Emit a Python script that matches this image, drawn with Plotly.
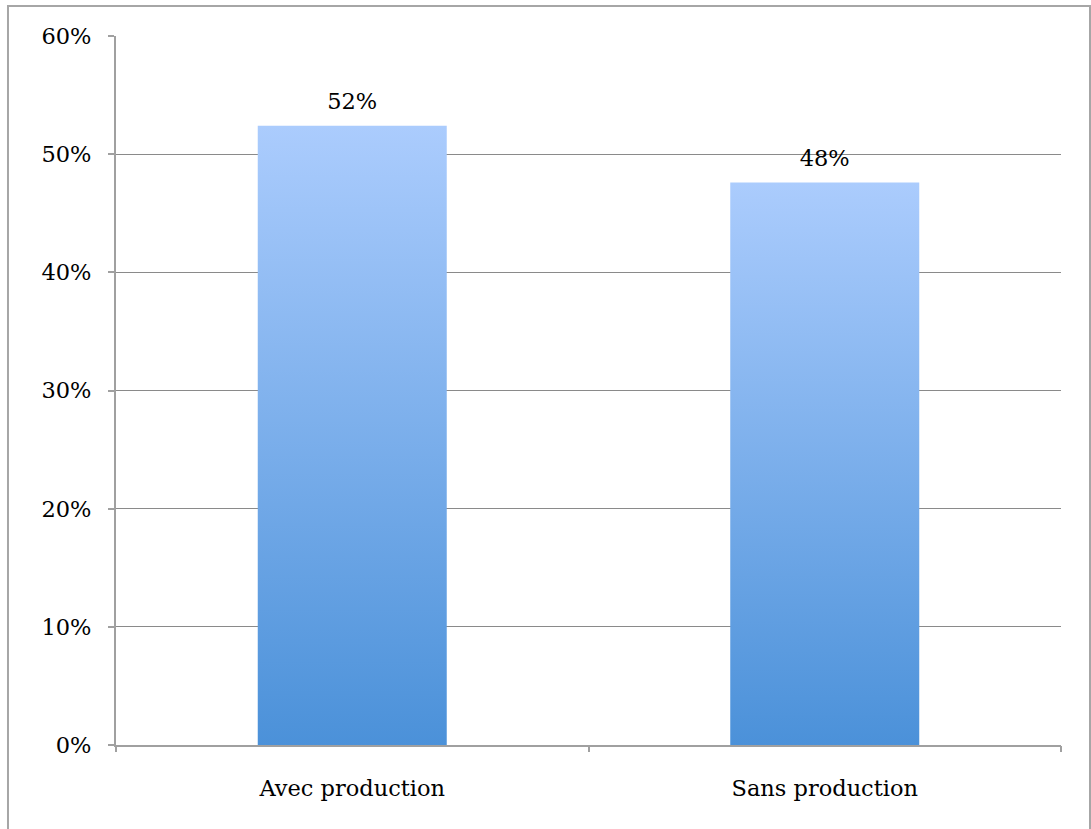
import plotly.graph_objects as go

# Share of respondents by group
categories = ["Avec production", "Sans production"]
shares = [0.524, 0.476]

# Axis ticks
y_ticks = [0.0, 0.1, 0.2, 0.3, 0.4, 0.5, 0.6]

FONT = "DejaVu Serif"
FONT_SIZE = 22.5
GRID = "#8a8a8a"
AXIS = "#a0a0a0"
HALF_WIDTH = 0.2

fig = go.Figure()

# Each bar as a filled polygon so it can carry a vertical gradient
for i, (cat, v) in enumerate(zip(categories, shares)):
    fig.add_trace(go.Scatter(
        x=[i - HALF_WIDTH, i - HALF_WIDTH, i + HALF_WIDTH, i + HALF_WIDTH, i - HALF_WIDTH],
        y=[0, v, v, 0, 0],
        mode="lines",
        fill="toself",
        line=dict(width=0),
        fillgradient=dict(type="vertical",
                          colorscale=[[0, "#4b91d9"], [1, "#abccfd"]]),
        name=cat,
        hoverinfo="skip",
        showlegend=False,
    ))

# Value labels above the bars (hidden marker keeps a small gap)
fig.add_trace(go.Scatter(
    x=list(range(len(categories))),
    y=shares,
    mode="markers+text",
    marker=dict(size=16, opacity=0),
    texttemplate="%{y:.0%}",
    textposition="top center",
    textfont=dict(family=FONT, size=FONT_SIZE, color="#000000"),
    showlegend=False,
    hoverinfo="skip",
))

# Invisible trace on the second x axis so its boundary ticks are drawn
fig.add_trace(go.Scatter(x=[-0.5, 1.5], y=[0, 0], mode="markers",
                         marker=dict(opacity=0), xaxis="x2",
                         showlegend=False, hoverinfo="skip"))

fig.update_layout(
    width=1091,
    height=829,
    margin=dict(l=116, r=30, t=36, b=84),
    paper_bgcolor="white",
    plot_bgcolor="white",
    font=dict(family=FONT, size=FONT_SIZE, color="#000000"),
    xaxis=dict(
        range=[-0.5, 1.5],
        tickvals=list(range(len(categories))),
        ticktext=categories,
        ticks="",
        showgrid=False,
        zeroline=False,
        showline=True,
        linecolor=AXIS,
        linewidth=2,
        ticklabelstandoff=22,
        fixedrange=True,
    ),
    xaxis2=dict(
        overlaying="x",
        anchor="y",
        side="bottom",
        range=[-0.5, 1.5],
        tickvals=[-0.5, 0.5, 1.5],
        ticks="outside",
        ticklen=6,
        tickcolor=AXIS,
        tickwidth=2,
        showticklabels=False,
        showgrid=False,
        zeroline=False,
        showline=False,
    ),
    yaxis=dict(
        range=[0, 0.6],
        tickvals=y_ticks,
        tickformat=".0%",
        ticks="outside",
        ticklen=6,
        tickcolor=AXIS,
        tickwidth=2,
        showgrid=True,
        gridcolor=GRID,
        gridwidth=1.3,
        zeroline=False,
        showline=True,
        linecolor=AXIS,
        linewidth=2,
        ticklabelstandoff=12,
        fixedrange=True,
    ),
    shapes=[
        # Frame around the whole chart
        dict(type="rect", xref="paper", yref="paper",
             x0=-0.1143, x1=1.0307, y0=-0.13, y1=1.0423,
             line=dict(color="#a6a6a6", width=2), fillcolor="rgba(0,0,0,0)",
             layer="below"),
    ],
)

fig.write_html("out.html")
